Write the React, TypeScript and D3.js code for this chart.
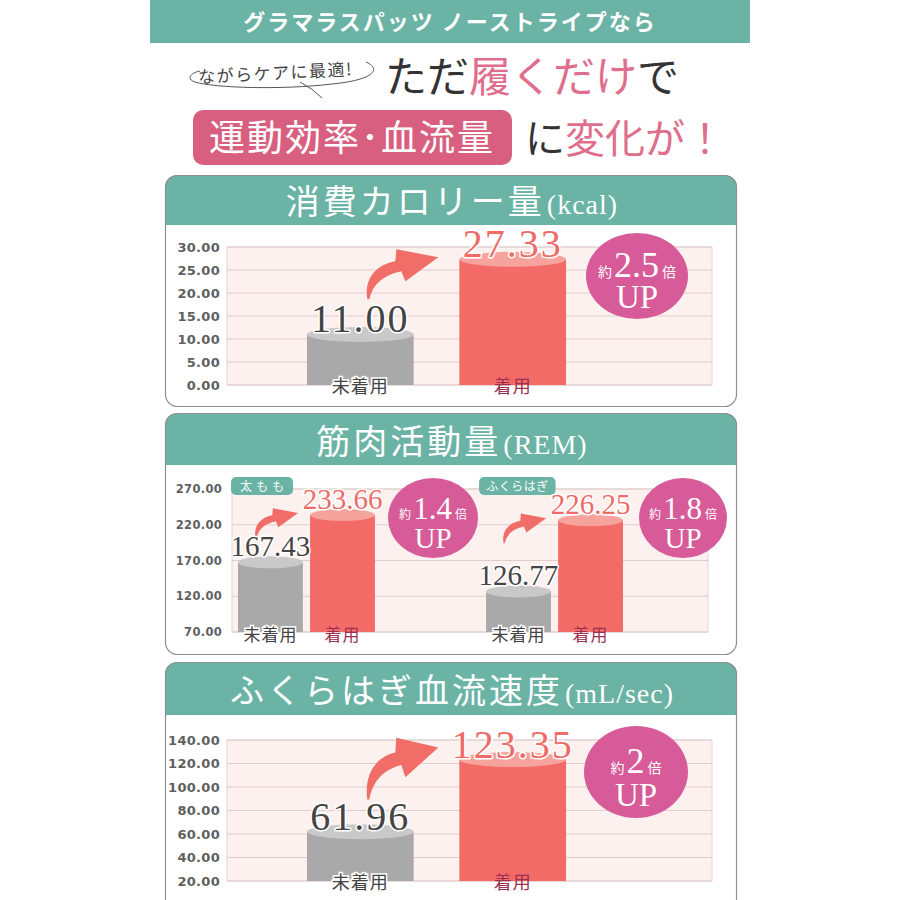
import * as d3 from "d3";

// 消費カロリー量
const calCats = ["未着用", "着用"];
const calValues = [11.0, 27.33];
const calTicks = [0, 5, 10, 15, 20, 25, 30];
const calRatio = "2.5";

// 筋肉活動量
const muscleGroups = ["太もも", "ふくらはぎ"];
const muscleOff = [167.43, 126.77];
const muscleOn = [233.66, 226.25];
const muscleTicks = [70, 120, 170, 220, 270];
const muscleRatio = ["1.4", "1.8"];

// ふくらはぎ血流速度
const bloodCats = ["未着用", "着用"];
const bloodValues = [61.96, 123.35];
const bloodTicks = [20, 40, 60, 80, 100, 120, 140];
const bloodRatio = "2";

const TEAL = "#6ab3a5";
const PINK = "#d95f80";
const HOT = "#f06d68";
const JP = "'Noto Sans CJK JP', sans-serif";
const SERIF = "'Liberation Serif', serif";
const TICKF = "'DejaVu Sans', sans-serif";

const barFill = (i: number) => (i === 0 ? "#a9a9a9" : "#f36b66");
const barTop = (i: number) => (i === 0 ? "#c9c9c9" : "#f6a39d");

function Cylinder({ x, w, top, bottom, i }: any) {
  const ry = Math.max(6, w * 0.07);
  return (
    <g>
      <rect x={x} y={top} width={w} height={bottom - top} fill={barFill(i)} />
      <ellipse cx={x + w / 2} cy={top} rx={w / 2} ry={ry} fill={barTop(i)} />
    </g>
  );
}

function Arrow({ tail, tip }: any) {
  const sx = (tip[0] - tail[0]) / 71;
  const sy = (tip[1] - tail[1]) / -42;
  return (
    <path
      transform={`translate(${tail[0]},${tail[1]}) scale(${sx},${sy})`}
      d="M0,0 C-3,-18 6,-34 28,-38 L29,-50 L71,-42 L38,-18 L34,-28 C15,-24 5,-14 2,0 Z"
      fill={HOT}
    />
  );
}

function Badge({ cx, cy, rx, ry, ratio, big, small, up }: any) {
  return (
    <g>
      <ellipse cx={cx} cy={cy} rx={rx} ry={ry} fill="#d65b98" />
      <text x={cx} y={cy + 1} textAnchor="middle" fill="#fff">
        <tspan fontFamily={JP} fontSize={small}>約</tspan>
        <tspan fontFamily={SERIF} fontSize={big} dx={2}>{ratio}</tspan>
        <tspan fontFamily={JP} fontSize={small} dx={3}>倍</tspan>
      </text>
      <text x={cx} y={cy + ry * 0.74} textAnchor="middle" fill="#fff" fontFamily={SERIF} fontSize={up}>
        UP
      </text>
    </g>
  );
}

function Panel({ y, h, headH, title, unit, titleY }: any) {
  const id = `clip${y}`;
  return (
    <g>
      <defs>
        <clipPath id={id}>
          <rect x={165} y={y} width={572} height={h} rx={12} />
        </clipPath>
      </defs>
      <g clipPath={`url(#${id})`}>
        <rect x={165} y={y} width={572} height={h} fill="#fff" />
        <rect x={165} y={y} width={572} height={headH} fill={TEAL} />
      </g>
      <rect x={165.5} y={y + 0.5} width={571} height={h - 1} rx={12} fill="none" stroke="#8f8f8f" strokeWidth={1.2} />
      <text x={452} y={titleY} textAnchor="middle" fill="#fff">
        <tspan fontFamily={JP} fontSize={34} letterSpacing={3}>{title}</tspan>
        <tspan fontFamily={SERIF} fontSize={28} letterSpacing={1} dx={2}>{unit}</tspan>
      </text>
    </g>
  );
}

function Grid({ y, ticks, x0, x1, tickX, fs }: any) {
  const top = y(ticks[ticks.length - 1]);
  const bot = y(ticks[0]);
  return (
    <g>
      <rect x={x0} y={top} width={x1 - x0} height={bot - top} fill="#fdf1f0" stroke="#e2d4d4" />
      {ticks.map((t: number) => (
        <g key={t}>
          <line x1={x0} x2={x1} y1={y(t)} y2={y(t)} stroke="#e0cccc" strokeWidth={1} />
          <text x={tickX} y={y(t)} dy="0.36em" textAnchor="end" fontFamily={TICKF} fontWeight="bold" fontSize={fs} fill="#606060" letterSpacing={0.3}>
            {d3.format(".2f")(t)}
          </text>
        </g>
      ))}
    </g>
  );
}

function ValueLabel({ x, y, v, i, fs, ls }: any) {
  return (
    <text x={x} y={y} textAnchor="middle" fontFamily={SERIF} fontSize={fs} letterSpacing={ls}
      fill={i === 0 ? "#444" : "#ee6b67"} stroke="#fff" strokeWidth={3} paintOrder="stroke" strokeLinejoin="round">
      {d3.format(".2f")(v)}
    </text>
  );
}

function CatLabel({ x, y, c, i, fs }: any) {
  return (
    <text x={x} y={y} textAnchor="middle" fontFamily={JP} fontSize={fs} letterSpacing={1}
      fill={i === 0 ? "#444" : "#9b3050"} stroke="#fff" strokeWidth={i === 0 ? 3 : 0} paintOrder="stroke">
      {c}
    </text>
  );
}

function SimpleChart({ cats, values, ticks, yRange, ratio, badge, arrowOff }: any) {
  const y = d3.scaleLinear().domain([ticks[0], ticks[ticks.length - 1]]).range(yRange);
  const x = d3.scaleBand<string>().domain(cats).range([307, 566]).paddingInner(0.3);
  const bw = x.bandwidth();
  const bot = y(ticks[0]);
  const gc = (x(cats[0]) as number) + bw / 2;
  const rTop = y(values[1]);
  return (
    <g>
      <Grid y={y} ticks={ticks} x0={227} x1={712} tickX={220} fs={13} />
      {cats.map((c: string, i: number) => (
        <Cylinder key={c} x={x(c)} w={bw} top={y(values[i])} bottom={bot} i={i} />
      ))}
      <Arrow tail={[gc + 7, rTop + arrowOff[1]]} tip={[(x(cats[1]) as number) - 21, rTop + arrowOff[0]]} />
      {cats.map((c: string, i: number) => (
        <ValueLabel key={c} x={(x(c) as number) + bw / 2} y={y(values[i]) - 2} v={values[i]} i={i} fs={40} ls={2} />
      ))}
      {cats.map((c: string, i: number) => (
        <CatLabel key={c} x={(x(c) as number) + bw / 2} y={bot + 8} c={c} i={i} fs={18} />
      ))}
      <Badge {...badge} ratio={ratio} big={36} small={14} up={33} />
    </g>
  );
}

function MuscleChart() {
  const y = d3.scaleLinear().domain([70, 270]).range([632, 489]);
  const gx = d3.scaleBand<string>().domain(muscleGroups).range([238, 623]).paddingInner(0.448);
  const ix = d3.scaleBand<string>().domain(calCats).range([0, gx.bandwidth()]).paddingInner(0.1);
  const bw = ix.bandwidth();
  const bot = y(70);
  const badges = [
    { cx: 433, cy: 518, rx: 45, ry: 40 },
    { cx: 683, cy: 518, rx: 44, ry: 40 },
  ];
  return (
    <g>
      <Grid y={y} ticks={muscleTicks} x0={232} x1={708} tickX={222} fs={11.5} />
      {muscleGroups.map((g, gi) => {
        const g0 = gx(g) as number;
        const vals = [muscleOff[gi], muscleOn[gi]];
        const rTop = y(muscleOn[gi]);
        const ls = g.length <= 3 ? 4 : 0.5;
        const tagW = g.length * (12 + ls) + 14;
        return (
          <g key={g}>
            <rect x={g0 - 7} y={477} width={tagW} height={18} rx={5} fill={TEAL} />
            <text x={g0 - 7 + tagW / 2 + ls / 2} y={491} textAnchor="middle" fontFamily={JP} fontSize={12} letterSpacing={ls} fill="#fff">{g}</text>
            {calCats.map((c, i) => (
              <Cylinder key={c} x={g0 + (ix(c) as number)} w={bw} top={y(vals[i])} bottom={bot} i={i} />
            ))}
            <Arrow tail={[g0 + (ix(calCats[0]) as number) + bw / 2 - 15, rTop + 23]} tip={[g0 + (ix(calCats[1]) as number) - 12, rTop - 2]} />
            {calCats.map((c, i) => (
              <ValueLabel key={c} x={g0 + (ix(c) as number) + bw / 2} y={y(vals[i]) - 6} v={vals[i]} i={i} fs={29} ls={0} />
            ))}
            {calCats.map((c, i) => (
              <CatLabel key={c} x={g0 + (ix(c) as number) + bw / 2} y={bot + 9} c={c} i={i} fs={17} />
            ))}
            <Badge {...badges[gi]} ratio={muscleRatio[gi]} big={31} small={12} up={29} />
          </g>
        );
      })}
    </g>
  );
}

export default function App() {
  return (
    <svg width={900} height={900} style={{ position: "absolute", left: 0, top: 0, background: "#fff" }}>
      {/* top banner */}
      <rect x={150} y={0} width={600} height={43} fill={TEAL} />
      <text x={450} y={30} textAnchor="middle" fontFamily={JP} fontWeight="bold" fontSize={22} letterSpacing={2} fill="#fff">
        グラマラスパッツ ノーストライプなら
      </text>

      <text x={198} y={79} fontFamily={JP} fontSize={17} fill="#444" letterSpacing={1.5} transform="rotate(-3 280 72)">
        ながらケアに最適!
      </text>
      <path d="M366,62 C382,69 374,80 332,84 C282,90 215,88 195,82 C186,79 190,73 200,71" fill="none" stroke="#555" strokeWidth={1} />
      <path d="M300,82 Q312,88 322,98" fill="none" stroke="#555" strokeWidth={1} />
      <text x={385} y={92} fontFamily={JP} fontSize={42} fill="#333">
        ただ<tspan fill="#df6e8c">履くだけ</tspan>で
      </text>

      <rect x={193} y={110} width={319} height={55} rx={10} fill={PINK} />
      <text x={352} y={151} textAnchor="middle" fontFamily={JP} fontSize={36} letterSpacing={2} fill="#fff">
        運動効率･血流量
      </text>
      <text x={525} y={153} fontFamily={JP} fontSize={40} fill="#333">
        に<tspan fill="#df6e8c">変化が！</tspan>
      </text>

      <Panel y={175} h={232} headH={50} title="消費カロリー量" unit="(kcal)" titleY={214} />
      <SimpleChart cats={calCats} values={calValues} ticks={calTicks} yRange={[385, 247]} ratio={calRatio}
        badge={{ cx: 637, cy: 276, rx: 51, ry: 43 }} arrowOff={[-2, 40]} />

      <Panel y={413} h={242} headH={52} title="筋肉活動量" unit="(REM)" titleY={454} />
      <MuscleChart />

      <Panel y={662} h={260} headH={53} title="ふくらはぎ血流速度" unit="(mL/sec)" titleY={703} />
      <SimpleChart cats={bloodCats} values={bloodValues} ticks={bloodTicks} yRange={[881, 740]} ratio={bloodRatio}
        badge={{ cx: 636, cy: 772, rx: 52, ry: 46 }} arrowOff={[-12, 40]} />
    </svg>
  );
}
